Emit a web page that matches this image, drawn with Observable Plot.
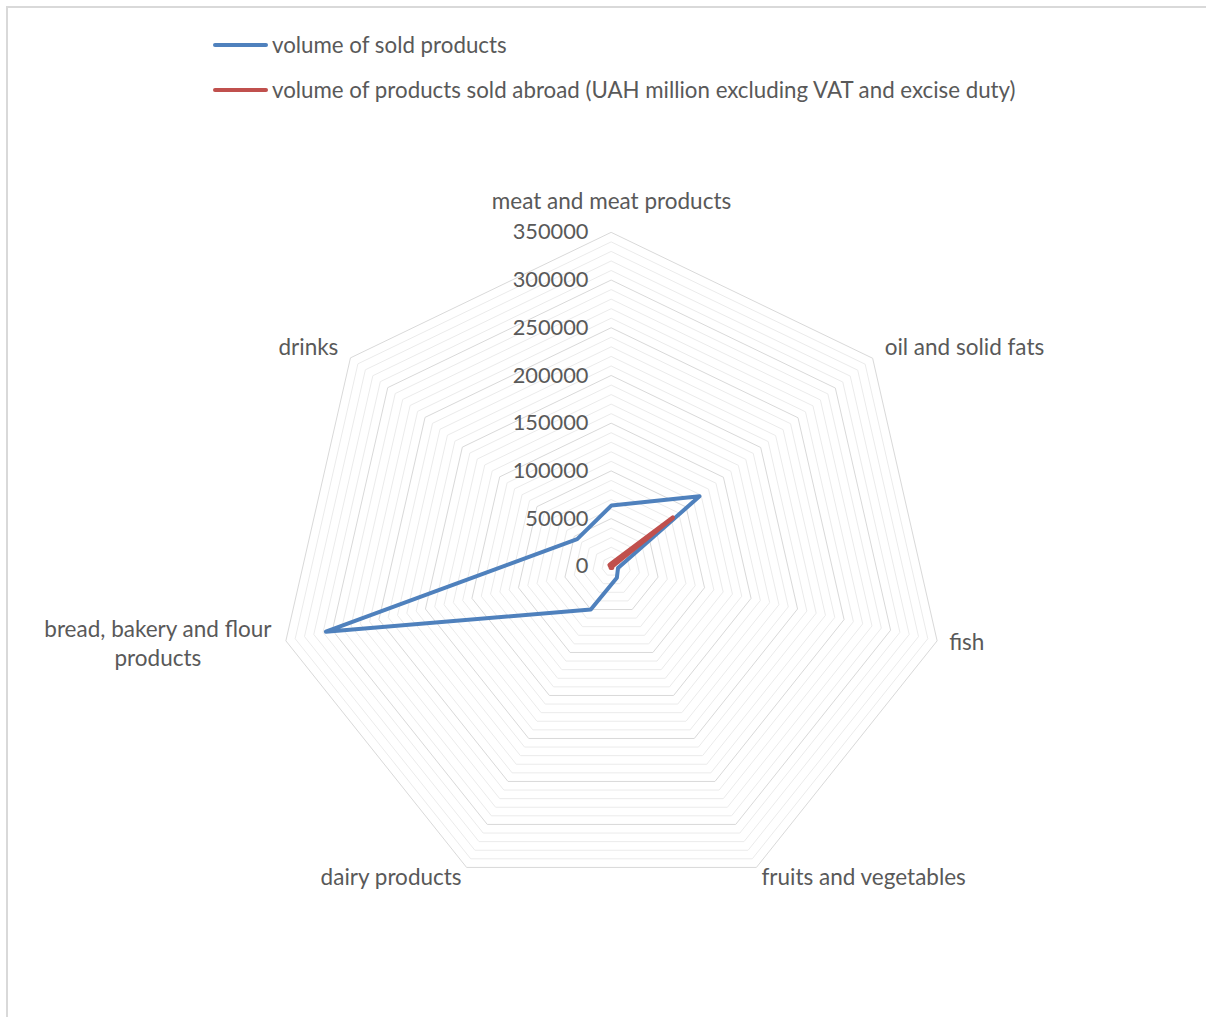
<!DOCTYPE html>
<html><head><meta charset="utf-8">
<script src="https://cdn.jsdelivr.net/npm/d3@7"></script>
<script src="https://cdn.jsdelivr.net/npm/@observablehq/plot@0.6"></script>
<style>
body{margin:0;background:#fff;font-family:Lato,"Open Sans",sans-serif;}
#wrap{position:relative;width:1206px;height:1017px;overflow:hidden;background:#fff;}
#frame{position:absolute;left:6px;top:6px;width:1400px;height:1200px;border-top:2px solid #d9d9d9;border-left:2px solid #d9d9d9;}
#chart{position:absolute;left:0;top:0;}
#legend{position:absolute;left:213px;top:0;}
.item{position:absolute;left:0;display:flex;align-items:center;white-space:nowrap;color:#595959;font-size:22.3px;}
.sw{width:55px;height:4px;border-radius:2px;margin-right:4px;}
</style>
</head><body>
<div id="wrap"><div id="frame"></div><div id="chart"></div><div id="legend"></div></div>
<script>
const categories = ["meat and meat products","oil and solid fats","fish","fruits and vegetables","dairy products","bread, bakery and flour products","drinks"];
const soldValues = [64000,118000,7000,13000,50000,307000,46000];
const abroadValues = [3000,82000,500,1500,1500,1000,2500];
const seriesNames = ["volume of sold products","volume of products sold abroad (UAH million excluding VAT and excise duty)"];
const seriesColors = ["#4F81BD","#C0504D"];
const tickValues = [0,50000,100000,150000,200000,250000,300000,350000];
const maxValue = 350000;
const gridStep = 10000;

const W = 1206, H = 1017, cx = 611, cy = 566, R = 334;
const k = R / maxValue;
const n = categories.length;
const ang = i => i * 2 * Math.PI / n;
const px = (v, i) => v * Math.sin(ang(i));
const py = (v, i) => v * Math.cos(ang(i));

const rings = [];
for (let v = gridStep; v <= maxValue; v += gridStep) {
  categories.forEach((c, i) => rings.push({ring: v, major: v % 50000 === 0, x: px(v, i), y: py(v, i)}));
}
const series = [soldValues, abroadValues].map((vals, s) =>
  vals.map((v, i) => ({s, x: px(v, i), y: py(v, i)})));

const font = "Lato, 'Open Sans', sans-serif";
const labelMarks = categories.map((c, i) => {
  const a = ang(i), sn = Math.sin(a), cs = Math.cos(a);
  const d = {c, x: px(maxValue, i), y: py(maxValue, i)};
  if (c.startsWith("bread")) {
    return Plot.text([d], {x: "x", y: "y", text: () => "bread, bakery and flour\nproducts", textAnchor: "middle", dx: -128, dy: 1, lineHeight: 1.3, fontSize: 22.5, fill: "#595959"});
  }
  const top = Math.abs(sn) < 0.01;
  const bottom = cs < -0.5;
  return Plot.text([d], {x: "x", y: "y", text: "c",
    textAnchor: top ? "middle" : (sn > 0 ? "start" : "end"),
    dx: top ? 0 : Math.sign(sn) * (bottom ? 5 : 12),
    dy: top ? -31 : (cs > 0 ? -16 * cs : -11 * cs),
    fontSize: 22.5, fill: "#595959"});
});

const chart = Plot.plot({
  width: W, height: H,
  margin: 0,
  x: {domain: [-cx / k, (W - cx) / k], axis: null},
  y: {domain: [-(H - cy) / k, cy / k], axis: null},
  style: {fontFamily: font, background: "transparent"},
  marks: [
    Plot.line(rings.filter(d => !d.major), {x: "x", y: "y", z: "ring", curve: "linear-closed", stroke: "#ebebeb", strokeWidth: 1}),
    Plot.line(rings.filter(d => d.major), {x: "x", y: "y", z: "ring", curve: "linear-closed", stroke: "#d9d9d9", strokeWidth: 1}),
    Plot.line(series[0], {x: "x", y: "y", curve: "linear-closed", stroke: seriesColors[0], strokeWidth: 4}),
    Plot.line(series[1], {x: "x", y: "y", curve: "linear-closed", stroke: seriesColors[1], strokeWidth: 4.5, strokeLinejoin: "round"}),
    Plot.text(tickValues, {x: 0, y: d => d, text: d => String(d), textAnchor: "end", dx: -23, fontSize: 21.8, fill: "#595959"}),
    ...labelMarks
  ]
});
document.getElementById("chart").appendChild(chart);

const leg = document.getElementById("legend");
seriesNames.forEach((name, s) => {
  const it = document.createElement("div");
  it.className = "item";
  it.style.top = (s === 0 ? 31 : 76) + "px";
  it.innerHTML = `<div class="sw" style="background:${seriesColors[s]}"></div><span>${name}</span>`;
  leg.appendChild(it);
});
</script>
</body></html>
